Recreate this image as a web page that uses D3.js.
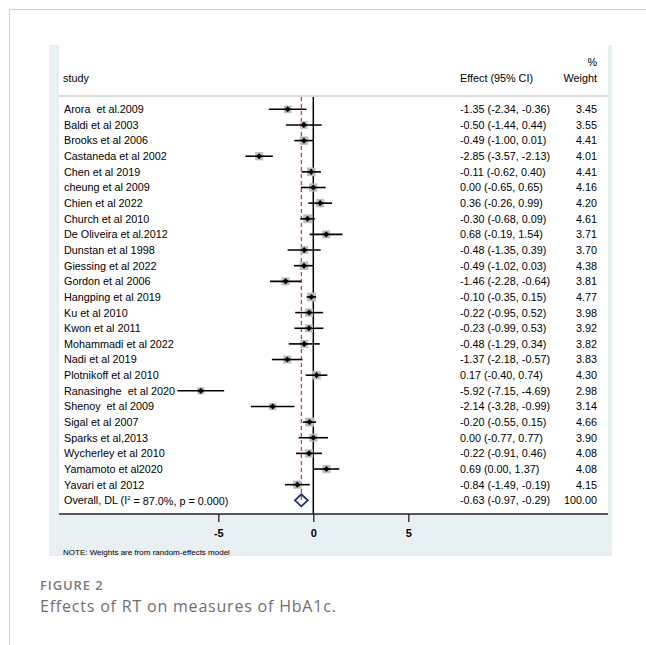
<!DOCTYPE html>
<html><head><meta charset="utf-8">
<script src="https://cdn.jsdelivr.net/npm/d3@7"></script>
<style>
html,body{margin:0;padding:0;background:#fff;}
svg{display:block;}
</style></head>
<body>
<script>
const studies = ["Arora  et al.2009","Baldi et al 2003","Brooks et al 2006","Castaneda et al 2002","Chen et al 2019","cheung et al 2009","Chien et al 2022","Church et al 2010","De Oliveira et al.2012","Dunstan et al 1998","Giessing et al 2022","Gordon et al 2006","Hangping et al 2019","Ku et al 2010","Kwon et al 2011","Mohammadi et al 2022","Nadi et al 2019","Plotnikoff et al 2010","Ranasinghe  et al 2020","Shenoy  et al 2009","Sigal et al 2007","Sparks et al,2013","Wycherley et al 2010","Yamamoto et al2020","Yavari et al 2012"];
const effects = [-1.35,-0.50,-0.49,-2.85,-0.11,0.00,0.36,-0.30,0.68,-0.48,-0.49,-1.46,-0.10,-0.22,-0.23,-0.48,-1.37,0.17,-5.92,-2.14,-0.20,0.00,-0.22,0.69,-0.84];
const lowers = [-2.34,-1.44,-1.00,-3.57,-0.62,-0.65,-0.26,-0.68,-0.19,-1.35,-1.02,-2.28,-0.35,-0.95,-0.99,-1.29,-2.18,-0.40,-7.15,-3.28,-0.55,-0.77,-0.91,0.00,-1.49];
const uppers = [-0.36,0.44,0.01,-2.13,0.40,0.65,0.99,0.09,1.54,0.39,0.03,-0.64,0.15,0.52,0.53,0.34,-0.57,0.74,-4.69,-0.99,0.15,0.77,0.46,1.37,-0.19];
const weights = [3.45,3.55,4.41,4.01,4.41,4.16,4.20,4.61,3.71,3.70,4.38,3.81,4.77,3.98,3.92,3.82,3.83,4.30,2.98,3.14,4.66,3.90,4.08,4.08,4.15];
const overall = {effect:-0.63, lower:-0.97, upper:-0.29, weight:100.00, i2:"87.0%", p:"0.000"};
const tickValues = [-5,0,5];

const f2 = d3.format(".2f");
const fmt = v => f2(v).replace("\u2212","-");
const fmtTick = v => d3.format("d")(v).replace("\u2212","-");
const W = 646, H = 645;
const svg = d3.select("body").append("svg").attr("width", W).attr("height", H);

// card border
svg.append("line").attr("x1",9.5).attr("x2",W).attr("y1",9.5).attr("y2",9.5).attr("stroke","#cfcfcf").attr("stroke-width",1);
svg.append("line").attr("x1",9.5).attr("x2",9.5).attr("y1",9.5).attr("y2",H).attr("stroke","#cfcfcf").attr("stroke-width",1);

// figure panel
svg.append("rect").attr("x",49).attr("y",45).attr("width",563).attr("height",511).attr("fill","#e9f0f3");
svg.append("rect").attr("x",59).attr("y",45).attr("width",549).attr("height",469).attr("fill","#fff");

const x = d3.scaleLinear().domain([-5,5]).range([218.3,408.3]);
const y = d3.scaleLinear().domain([0,25]).range([109.3,500.3]);

const font = "'Liberation Sans', Arial, sans-serif";
const fs = 10.8;
const txt = "#000";

// header
const hdr = svg.append("g").attr("font-family",font).attr("font-size",fs).attr("fill",txt);
hdr.append("text").attr("x",63).attr("y",82).text("study");
hdr.append("text").attr("x",460).attr("y",82).text("Effect (95% CI)");
hdr.append("text").attr("x",597).attr("y",66).attr("text-anchor","end").text("%");
hdr.append("text").attr("x",597).attr("y",82).attr("text-anchor","end").text("Weight");
svg.append("line").attr("x1",59).attr("x2",608).attr("y1",96).attr("y2",96).attr("stroke","#cccccc").attr("stroke-width",1.5);

// zero line
svg.append("line").attr("x1",x(0)).attr("x2",x(0)).attr("y1",97).attr("y2",514).attr("stroke","#000").attr("stroke-width",1.5);
// overall dashed line
svg.append("line").attr("x1",x(overall.effect)).attr("x2",x(overall.effect)).attr("y1",97).attr("y2",y(25))
  .attr("stroke","#b5262b").attr("stroke-width",1.1).attr("stroke-dasharray","4,3");

const rows = studies.map((s,i)=>({s, e:effects[i], lo:lowers[i], hi:uppers[i], w:weights[i], i}));

const g = svg.append("g");
g.selectAll("rect.box").data(rows).join("rect").attr("class","box")
  .attr("x",d=>x(d.e)-2.05*Math.sqrt(d.w)).attr("y",d=>y(d.i)-2.05*Math.sqrt(d.w))
  .attr("width",d=>4.1*Math.sqrt(d.w)).attr("height",d=>4.1*Math.sqrt(d.w))
  .attr("fill","#bdbdbd");
g.selectAll("line.ci").data(rows).join("line").attr("class","ci")
  .attr("x1",d=>x(d.lo)).attr("x2",d=>x(d.hi)).attr("y1",d=>y(d.i)).attr("y2",d=>y(d.i))
  .attr("stroke","#000").attr("stroke-width",1.6);
g.selectAll("path.pt").data(rows).join("path").attr("class","pt")
  .attr("d", d3.symbol().type(d3.symbolDiamond2).size(24))
  .attr("transform",d=>`translate(${x(d.e)},${y(d.i)})`).attr("fill","#000");

// labels
const tg = svg.append("g").attr("font-family",font).attr("font-size",fs).attr("fill",txt);
tg.selectAll("text.lab").data(rows).join("text").attr("class","lab")
  .attr("x",64).attr("y",d=>y(d.i)).attr("dy","0.36em").attr("xml:space","preserve").text(d=>d.s);
tg.selectAll("text.ef").data(rows).join("text").attr("class","ef")
  .attr("x",460).attr("y",d=>y(d.i)).attr("dy","0.36em")
  .text(d=>`${fmt(d.e)} (${fmt(d.lo)}, ${fmt(d.hi)})`);
tg.selectAll("text.wt").data(rows).join("text").attr("class","wt")
  .attr("x",597).attr("y",d=>y(d.i)).attr("dy","0.36em").attr("text-anchor","end")
  .text(d=>fmt(d.w));

// overall row
const oy = y(25);
const ol = tg.append("text").attr("x",64).attr("y",oy).attr("dy","0.36em");
ol.append("tspan").text("Overall, DL (I");
ol.append("tspan").attr("font-size",6).attr("dy","-0.7em").text("2");
ol.append("tspan").attr("dy","0.45em").text(` = ${overall.i2}, p = ${overall.p})`);
tg.append("text").attr("x",460).attr("y",oy).attr("dy","0.36em")
  .text(`${fmt(overall.effect)} (${fmt(overall.lower)}, ${fmt(overall.upper)})`);
tg.append("text").attr("x",597).attr("y",oy).attr("dy","0.36em").attr("text-anchor","end").text(fmt(overall.weight));

svg.append("path")
  .attr("d",`M${x(overall.lower)},${oy} L${x(overall.effect)},${oy-6} L${x(overall.upper)},${oy} L${x(overall.effect)},${oy+6} Z`)
  .attr("fill","none").attr("stroke","#1d2a7a").attr("stroke-width",1.8);

// axis
svg.append("line").attr("x1",59).attr("x2",608).attr("y1",514).attr("y2",514).attr("stroke","#222").attr("stroke-width",1.5);
const ax = svg.append("g").attr("transform","translate(0,514)")
  .call(d3.axisBottom(x).tickValues(tickValues).tickSize(8).tickPadding(7).tickFormat(fmtTick));
ax.select(".domain").remove();
ax.selectAll(".tick line").attr("stroke","#222").attr("stroke-width",1.3);
ax.selectAll(".tick text").attr("font-family",font).attr("font-size",11).attr("fill",txt).attr("font-weight","bold");

svg.append("text").attr("x",63).attr("y",552).attr("dy","0.35em").attr("font-family",font).attr("font-size",8).attr("fill",txt)
  .text("NOTE: Weights are from random-effects model");

// caption
svg.append("text").attr("x",40).attr("y",590).attr("font-family","'Open Sans', sans-serif").attr("font-size",13)
  .attr("font-weight",600).attr("letter-spacing",0.9).attr("fill","#7a7a7a").text("FIGURE 2");
svg.append("text").attr("x",40).attr("y",612).attr("font-family","'Open Sans', sans-serif").attr("font-size",16)
  .attr("letter-spacing",0.8).attr("fill","#6f6f6f").text("Effects of RT on measures of HbA1c.");
</script>
</body></html>
